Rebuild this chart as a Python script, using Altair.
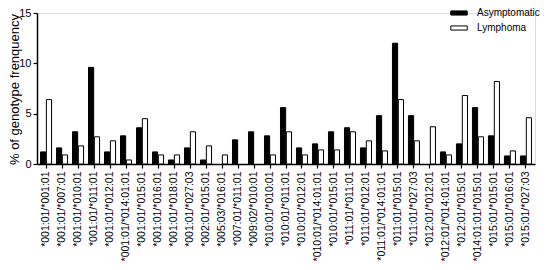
import altair as alt
import pandas as pd

genotypes = [
    "*001:01/*001:01", "*001:01/*007:01", "*001:01/*010:01", "*001:01/*011:01",
    "*001:01/*012:01", "*001:01/*014:01:01", "*001:01/*015:01", "*001:01/*016:01",
    "*001:01/*018:01", "*001:01/*027:03", "*002:01/*015:01", "*005:03/*016:01",
    "*007:01/*011:01", "*009:02/*010:01", "*010:01/*010:01", "*010:01/*011:01",
    "*010:01/*012:01", "*010:01/*014:01:01", "*010:01/*015:01", "*011:01/*011:01",
    "*011:01/*012:01", "*011:01/*014:01:01", "*011:01/*015:01", "*011:01/*027:03",
    "*012:01/*012:01", "*012:01/*014:01:01", "*012:01/*015:01", "*014:01:01/*015:01",
    "*015:01/*015:01", "*015:01/*016:01", "*015:01/*027:03",
]
asymptomatic = [1.2, 1.6, 3.2, 9.6, 1.2, 2.8, 3.6, 1.2, 0.4, 1.6,
                0.4, 0.0, 2.4, 3.2, 2.8, 5.6, 1.6, 2.0, 3.2, 3.6,
                1.6, 4.8, 12.0, 4.8, 0.0, 1.2, 2.0, 5.6, 2.8, 0.8, 0.8]
lymphoma = [6.4, 0.9, 1.8, 2.7, 2.3, 0.4, 4.5, 0.9, 0.9, 3.2,
            1.8, 0.9, 0.0, 0.0, 0.9, 3.2, 0.9, 1.4, 1.4, 3.2,
            2.3, 1.3, 6.4, 2.3, 3.7, 0.9, 6.8, 2.7, 8.2, 1.3, 4.6]
series = ["Asymptomatic", "Lymphoma"]

rows = []
for g, a, l in zip(genotypes, asymptomatic, lymphoma):
    rows.append({"genotype": g, "group": series[0], "value": a})
    rows.append({"genotype": g, "group": series[1], "value": l})
df = pd.DataFrame(rows)
df = df[df["value"] > 0]

FONT = "Liberation Sans"

chart = alt.Chart(df).mark_bar(stroke="black", strokeWidth=1).encode(
    x=alt.X("genotype:N", sort=genotypes,
            scale=alt.Scale(domain=genotypes, paddingInner=0.31, paddingOuter=0.22),
            axis=alt.Axis(title=None, labelAngle=270, labelFontSize=10.5, labelFont=FONT,
                          labelColor="black", tickColor="black", tickSize=4,
                          domainColor="black", domainWidth=1.5, tickWidth=1.2,
                          labelPadding=3, labelBaseline="middle", labelAlign="right")),
    xOffset=alt.XOffset("group:N", sort=series,
                        scale=alt.Scale(domain=series, paddingInner=0.12)),
    y=alt.Y("value:Q",
            scale=alt.Scale(domain=[0, 15], nice=False),
            axis=alt.Axis(title="% of genotype frenquency", values=[0, 5, 10, 15],
                          grid=False, labelFontSize=11, labelFont=FONT, labelColor="black",
                          tickColor="black", tickSize=4, tickWidth=1.2,
                          domainColor="black", domainWidth=1.5,
                          titleFont=FONT, titleFontSize=13, titleFontWeight="normal",
                          titleColor="black", titleX=-19, titleY=76,
                          titleAlign="center", titleAngle=270,
                          titleBaseline="alphabetic")),
    color=alt.Color("group:N", sort=series,
                    scale=alt.Scale(domain=series, range=["black", "white"]),
                    legend=alt.Legend(title=None, orient="none", legendX=413, legendY=-9,
                                      symbolType="M-1,-0.25H1V0.25H-1Z", symbolSize=270,
                                      symbolStrokeColor="black", symbolStrokeWidth=1,
                                      labelFont=FONT, labelFontSize=10, labelColor="black",
                                      rowPadding=1, labelOffset=9)),
).properties(
    width=498, height=151,
    autosize=alt.AutoSizeParams(type="none"),
    padding={"left": 29, "top": 5, "right": 7, "bottom": 98},
).configure_view(stroke=None).configure(background="white")

chart.save("out.html", embed_options={"renderer": "svg", "actions": False})
